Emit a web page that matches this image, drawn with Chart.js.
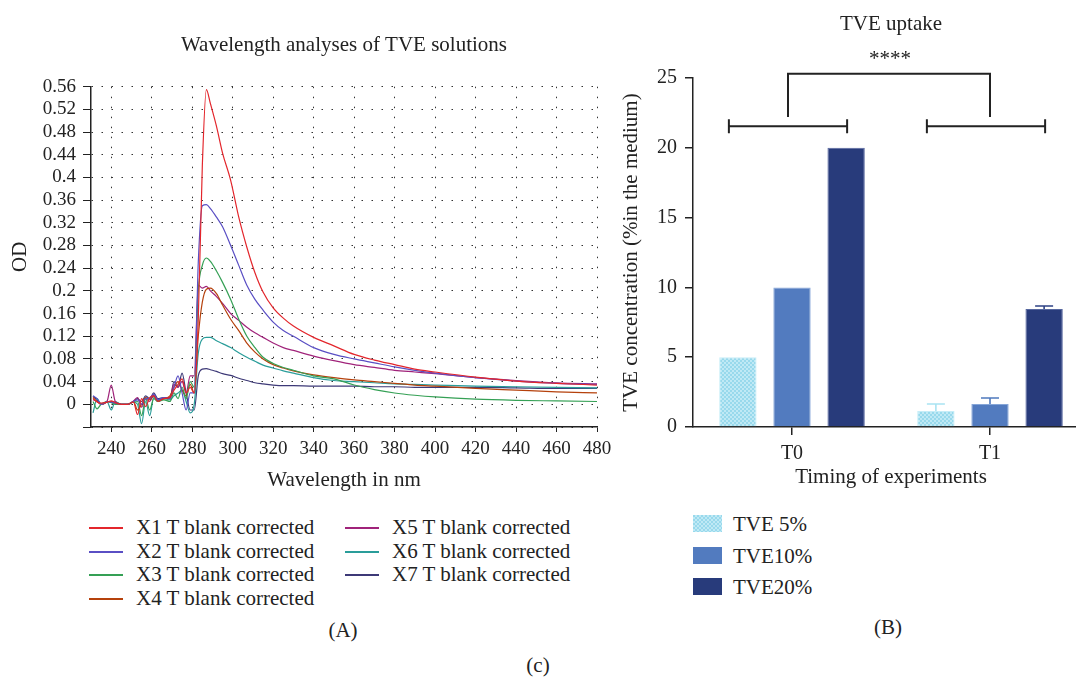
<!DOCTYPE html>
<html>
<head>
<meta charset="utf-8">
<script src="https://cdn.jsdelivr.net/npm/chart.js@4.4.1/dist/chart.umd.min.js"></script>
<style>
    html, body {
        margin: 0;
        padding: 0;
        width: 1076px;
        height: 677px;
        overflow: hidden;
        background: #fff;
        font-family: "Liberation Serif", "DejaVu Serif", serif;
        color: #222;
    }
    #wrapA { position: absolute; left: 0; top: 0; width: 620px; height: 500px; }
    #wrapB { position: absolute; left: 600px; top: 0; width: 496px; height: 500px; }
    .item { position: absolute; font-size: 21px; line-height: 24px; white-space: nowrap; }
    .swatch-line { position: absolute; height: 0; border-top: 2px solid; }
    .swatch-box { position: absolute; width: 29px; height: 17px; }
    .caption { position: absolute; font-size: 21px; line-height: 24px; transform: translateX(-50%); }
</style>
</head>
<body>
<div id="wrapA"><canvas id="spectra"></canvas></div>
<div id="wrapB"><canvas id="uptake"></canvas></div>
<div id="legendA"></div>
<div id="legendB"></div>
<div class="caption" style="left:343px; top:618px;">(A)</div>
<div class="caption" style="left:888px; top:615px;">(B)</div>
<div class="caption" style="left:538px; top:653px;">(c)</div>

<script>
// ---- panel A: absorbance spectra ----
const wavelengths = [231, 233, 235, 238, 240, 242, 245, 248, 251, 253, 255, 257, 259, 261, 263, 266, 269, 271, 273, 275, 277, 279,
    281, 283, 285, 287, 289, 292, 295, 299, 303, 307, 311, 315, 320, 325, 330, 340, 350, 360, 370, 380, 390, 400, 420, 440, 460, 480];
const xTicks = [240, 260, 280, 300, 320, 340, 360, 380, 400, 420, 440, 460, 480];

const x1Values = [0.01, 0.004, 0.002, 0.004, 0.006, 0.003, 0.0, 0.0, 0.004, -0.018, 0.01, -0.004, 0.012, 0.015, 0.005, 0.01, 0.012, 0.025, 0.035, 0.045, 0.02, 0.03,
    0.02, 0.15, 0.42, 0.555, 0.53, 0.49, 0.443, 0.395, 0.33, 0.277, 0.232, 0.198, 0.17, 0.152, 0.138, 0.118, 0.103, 0.088, 0.078, 0.07, 0.062, 0.057, 0.048, 0.041, 0.037, 0.034];
const x2Values = [0.015, 0.01, 0.0, 0.005, 0.004, 0.002, 0.0, 0.0, 0.005, 0.008, 0.0, 0.01, 0.01, 0.018, 0.008, 0.012, 0.01, 0.03, 0.05, 0.02, -0.01, 0.02,
    0.02, 0.25, 0.35, 0.352, 0.345, 0.33, 0.313, 0.28, 0.245, 0.21, 0.185, 0.166, 0.145, 0.13, 0.12, 0.10, 0.088, 0.08, 0.073, 0.066, 0.06, 0.055, 0.047, 0.041, 0.037, 0.035];
const x3Values = [0.005, -0.008, 0.0, 0.005, 0.003, 0.0, 0.0, 0.0, 0.004, 0.005, -0.02, 0.01, -0.01, 0.01, 0.005, 0.008, 0.005, 0.02, 0.01, 0.03, 0.01, 0.04,
    0.03, 0.2, 0.245, 0.258, 0.252, 0.235, 0.215, 0.185, 0.15, 0.12, 0.10, 0.083, 0.072, 0.065, 0.06, 0.05, 0.045, 0.034, 0.026, 0.02, 0.016, 0.013, 0.009, 0.007, 0.006, 0.005];
const x4Values = [0.012, 0.005, 0.0, 0.004, 0.005, 0.002, 0.0, 0.0, 0.005, -0.01, 0.0, 0.012, 0.008, 0.015, 0.006, 0.01, 0.015, 0.03, 0.04, 0.025, 0.015, 0.035,
    0.02, 0.12, 0.18, 0.203, 0.205, 0.195, 0.175, 0.15, 0.13, 0.108, 0.092, 0.08, 0.07, 0.064, 0.059, 0.052, 0.047, 0.043, 0.04, 0.037, 0.034, 0.032, 0.028, 0.025, 0.022, 0.02];
const x5Values = [0.008, 0.005, 0.0, 0.006, 0.034, 0.005, 0.0, 0.0, 0.006, 0.012, -0.005, 0.01, 0.005, 0.016, 0.006, 0.012, 0.012, 0.035, 0.03, 0.04, 0.02, 0.05,
    0.05, 0.21, 0.205, 0.208, 0.2, 0.19, 0.178, 0.16, 0.148, 0.136, 0.126, 0.118, 0.108, 0.10, 0.095, 0.085, 0.077, 0.07, 0.065, 0.06, 0.057, 0.054, 0.047, 0.042, 0.038, 0.036];
const x6Values = [-0.015, 0.01, 0.0, 0.004, -0.01, 0.005, 0.0, 0.0, 0.004, 0.0, -0.034, 0.005, -0.02, 0.012, 0.005, 0.01, 0.008, 0.015, 0.02, 0.025, 0.005, -0.015,
    0.0, 0.09, 0.115, 0.118, 0.118, 0.112, 0.107, 0.10, 0.091, 0.083, 0.076, 0.069, 0.064, 0.059, 0.055, 0.047, 0.042, 0.04, 0.038, 0.036, 0.035, 0.034, 0.032, 0.031, 0.03, 0.029];
const x7Values = [0.014, 0.008, 0.0, 0.005, 0.004, 0.004, 0.0, 0.0, 0.005, 0.01, 0.005, 0.015, 0.01, 0.02, 0.01, 0.012, 0.01, 0.04, 0.03, 0.055, 0.02, -0.01,
    -0.01, 0.05, 0.062, 0.063, 0.061, 0.058, 0.054, 0.051, 0.046, 0.042, 0.038, 0.036, 0.034, 0.033, 0.033, 0.032, 0.032, 0.032, 0.031, 0.031, 0.03, 0.03, 0.03, 0.029, 0.028, 0.028];

const seriesNames = ['X1 T blank corrected', 'X2 T blank corrected', 'X3 T blank corrected', 'X4 T blank corrected',
    'X5 T blank corrected', 'X6 T blank corrected', 'X7 T blank corrected'];
const seriesValues = [x1Values, x2Values, x3Values, x4Values, x5Values, x6Values, x7Values];
const seriesColors = ['#e3262c', '#5a4fc4', '#35a055', '#b5410c', '#a0237a', '#2a9d9a', '#3d3977'];

// ---- panel B: TVE uptake ----
const timepoints = ['T0', 'T1'];
const doseNames = ['TVE 5%', 'TVE10%', 'TVE20%'];
const tve5Values = [5, 1.15];
const tve10Values = [10, 1.65];
const tve20Values = [20, 8.45];
const tve5Errors = [0, 0.5];
const tve10Errors = [0, 0.43];
const tve20Errors = [0, 0.22];
const doseColors = ['#a6e0f0', '#527bbf', '#283b7b'];
const doseBorders = ['#c6edf8', '#86a6d8', '#56679f'];
const errorColors = ['#a9e3f2', '#4f79bd', '#2e4285'];

const FONT = '"Liberation Serif", "DejaVu Serif", serif';
const INK = '#222';
Chart.defaults.font.family = FONT;
Chart.defaults.color = INK;

// light checker fill used for the 5% bars
function makeChecker() {
    const c = document.createElement('canvas');
    c.width = 4;
    c.height = 4;
    const g = c.getContext('2d');
    g.fillStyle = '#bfe9f5';
    g.fillRect(0, 0, 4, 4);
    g.fillStyle = '#98d9ec';
    g.fillRect(0, 0, 2, 2);
    g.fillRect(2, 2, 2, 2);
    return c;
}
const checker = makeChecker();

// ---- chart A ----
new Chart(document.getElementById('spectra'), {
    type: 'line',
    data: {
        datasets: seriesValues.map((vals, k) => ({
            label: seriesNames[k],
            data: wavelengths.map((w, i) => ({ x: w, y: vals[i] })),
            borderColor: seriesColors[k],
            borderWidth: 1.2,
            pointRadius: 0,
            cubicInterpolationMode: 'monotone'
        }))
    },
    options: {
        responsive: true,
        maintainAspectRatio: false,
        animation: false,
        layout: { padding: { left: 0, right: 23, top: 0, bottom: 0 } },
        plugins: {
            legend: { display: false },
            tooltip: { enabled: false },
            title: {
                display: true,
                fullSize: false,
                text: 'Wavelength analyses of TVE solutions',
                color: INK,
                font: { size: 21, weight: 'normal' },
                padding: { top: 33, bottom: 28.5 }
            }
        },
        scales: {
            x: {
                type: 'linear',
                min: 230,
                max: 480,
                afterBuildTicks: s => { s.ticks = xTicks.map(v => ({ value: v })); },
                afterFit: s => { s.height = 73; },
                ticks: { font: { size: 19 }, color: INK, padding: 6, maxRotation: 0 },
                grid: { color: '#333', tickColor: INK, tickLength: 5, tickBorderDash: [] },
                border: { color: INK, width: 1.5, dash: [1.5, 8.5] },
                title: { display: true, text: 'Wavelength in nm', font: { size: 21 }, color: INK, padding: { top: 0, bottom: 7 } }
            },
            y: {
                min: -0.04,
                max: 0.56,
                afterFit: s => { s.width = 91; },
                ticks: {
                    stepSize: 0.04,
                    autoSkip: false,
                    font: { size: 19 },
                    color: INK,
                    padding: 7,
                    callback: v => v < -0.001 ? '' : String(Math.round(v * 100) / 100)
                },
                grid: { color: '#333', tickColor: INK, tickLength: 8, tickBorderDash: [] },
                border: { color: INK, width: 1.5, dash: [1.5, 8.5] },
                title: { display: true, text: 'OD', font: { size: 21 }, color: INK, padding: { top: 8, bottom: 0 } }
            }
        }
    }
});

// ---- chart B ----
const ctxB = document.getElementById('uptake').getContext('2d');
const checkerPattern = ctxB.createPattern(checker, 'repeat');
const doseValues = [tve5Values, tve10Values, tve20Values];
const doseErrors = [tve5Errors, tve10Errors, tve20Errors];

const bracketPlugin = {
    id: 'errorsAndBrackets',
    afterDatasetsDraw(chart) {
        const { ctx, scales: { y } } = chart;
        const bar = (d, i) => chart.getDatasetMeta(d).data[i];
        ctx.save();

        // one-sided error bars
        doseErrors.forEach((errs, d) => {
            errs.forEach((err, i) => {
                if (!err) return;
                const b = bar(d, i);
                const top = y.getPixelForValue(doseValues[d][i] + err);
                ctx.strokeStyle = errorColors[d];
                ctx.lineWidth = 1.6;
                ctx.beginPath();
                ctx.moveTo(b.x, b.y);
                ctx.lineTo(b.x, top);
                ctx.moveTo(b.x - 9, top);
                ctx.lineTo(b.x + 9, top);
                ctx.stroke();
            });
        });

        // group brackets and significance
        ctx.strokeStyle = INK;
        ctx.lineWidth = 2;
        const yb = y.getPixelForValue(21.55);
        const tick = 7;
        timepoints.forEach((t, i) => {
            const x0 = bar(0, i).x - 9;
            const x1 = bar(2, i).x + 1;
            ctx.beginPath();
            ctx.moveTo(x0, yb); ctx.lineTo(x1, yb);
            ctx.moveTo(x0, yb - tick); ctx.lineTo(x0, yb + tick);
            ctx.moveTo(x1, yb - tick); ctx.lineTo(x1, yb + tick);
            ctx.stroke();
        });
        const yTop = y.getPixelForValue(25.3);
        const yLeg = y.getPixelForValue(22.2);
        const xa = bar(1, 0).x - 4;
        const xb = bar(1, 1).x;
        ctx.beginPath();
        ctx.moveTo(xa, yLeg); ctx.lineTo(xa, yTop); ctx.lineTo(xb, yTop); ctx.lineTo(xb, yLeg);
        ctx.stroke();

        ctx.fillStyle = INK;
        ctx.font = '21px ' + FONT;
        ctx.textAlign = 'center';
        ctx.textBaseline = 'middle';
        ctx.fillText('****', (xa + xb) / 2 + 1, y.getPixelForValue(26.3));
        ctx.restore();
    }
};

new Chart(ctxB, {
    type: 'bar',
    data: {
        labels: timepoints,
        datasets: doseValues.map((vals, d) => ({
            label: doseNames[d],
            data: vals,
            backgroundColor: d === 0 ? checkerPattern : doseColors[d],
            borderColor: doseBorders[d],
            borderWidth: 1,
            categoryPercentage: 0.82,
            barPercentage: 0.69
        }))
    },
    options: {
        responsive: true,
        maintainAspectRatio: false,
        animation: false,
        layout: { padding: { left: 0, right: 7, top: 0, bottom: 0 } },
        plugins: {
            legend: { display: false },
            tooltip: { enabled: false },
            title: {
                display: true,
                fullSize: false,
                text: 'TVE uptake',
                color: INK,
                font: { size: 21, weight: 'normal' },
                padding: { top: 11.5, bottom: 41.3 }
            }
        },
        scales: {
            x: {
                afterFit: s => { s.height = 73; },
                ticks: { font: { size: 20 }, color: INK, padding: 7 },
                grid: { offset: false, drawOnChartArea: false, color: INK, tickLength: 8, lineWidth: 1.5 },
                border: { color: INK, width: 1.5 },
                title: { display: true, text: 'Timing of experiments', font: { size: 21 }, color: INK, padding: { top: 0, bottom: 10 } }
            },
            y: {
                min: 0,
                max: 25,
                afterFit: s => { s.width = 93; },
                ticks: { stepSize: 5, font: { size: 20 }, color: INK, padding: 8 },
                grid: { drawOnChartArea: false, color: INK, tickLength: 8, lineWidth: 1.5 },
                border: { color: INK, width: 1.5 },
                title: { display: true, text: 'TVE concentration (%in the medium)', font: { size: 21 }, color: INK, padding: { top: 19, bottom: 0 } }
            }
        }
    },
    plugins: [bracketPlugin]
});

// ---- legends ----
const legendA = document.getElementById('legendA');
seriesNames.forEach((name, k) => {
    const col = k < 4 ? 0 : 1;
    const row = k < 4 ? k : k - 4;
    const top = 515 + row * 23.5;
    const lineLeft = col === 0 ? 89 : 345;
    const textLeft = col === 0 ? 136 : 392;
    const line = document.createElement('div');
    line.className = 'swatch-line';
    line.style.cssText = `left:${lineLeft}px; top:${top + 12}px; width:34px; border-color:${seriesColors[k]};`;
    const label = document.createElement('div');
    label.className = 'item';
    label.style.cssText = `left:${textLeft}px; top:${top}px;`;
    label.textContent = name;
    legendA.appendChild(line);
    legendA.appendChild(label);
});

const legendB = document.getElementById('legendB');
doseNames.forEach((name, d) => {
    const top = 515 + d * 31.5;
    const box = document.createElement('div');
    box.className = 'swatch-box';
    box.style.cssText = `left:693px; top:${top}px;`;
    box.style.background = d === 0 ? `url(${checker.toDataURL()})` : doseColors[d];
    const label = document.createElement('div');
    label.className = 'item';
    label.style.cssText = `left:733px; top:${top - 3}px;`;
    label.textContent = name;
    legendB.appendChild(box);
    legendB.appendChild(label);
});
</script>
</body>
</html>
